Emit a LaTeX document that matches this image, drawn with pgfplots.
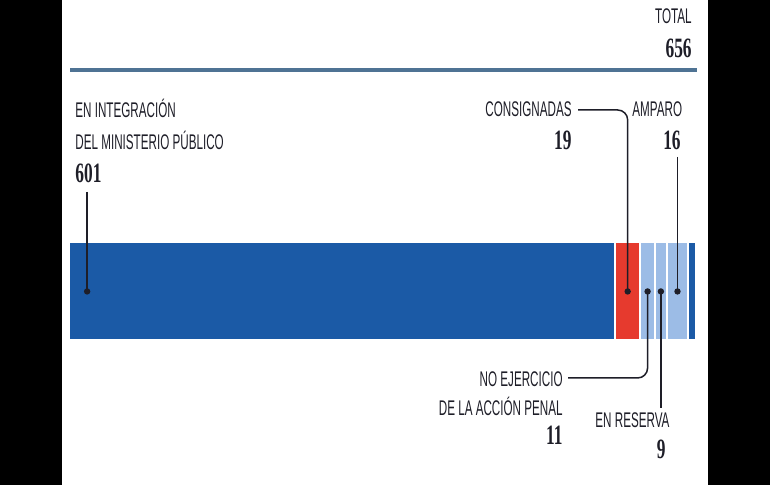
\documentclass[border=0pt]{standalone}
\usepackage{pgfplots}
\pgfplotsset{compat=1.18}
\usepackage{fontspec}
\setmainfont{Liberation Sans}
\newfontfamily\lab[FakeStretch=0.55]{Liberation Sans}
\newfontfamily\num[FakeStretch=0.62]{Liberation Serif}
\definecolor{dblue}{HTML}{1B5AA6}
\definecolor{sred}{HTML}{E63A2E}
\definecolor{lblue}{HTML}{9CBCE6}
\definecolor{rule}{HTML}{4F7394}
\definecolor{ink}{HTML}{1E1E28}
\newcommand\lbl{\lab\fontsize{10.6}{12}\selectfont\color{ink}}
\newcommand\nmb{\num\bfseries\fontsize{14}{16}\selectfont\color{ink}}
\begin{document}
\begin{tikzpicture}[x=0.5pt,y=0.5pt]
% frame: black side bands as in the reference
\fill[black] (0,0) rectangle (770,485);
\fill[white] (62,0) rectangle (708,485);
\draw[rule, line width=2pt] (70,415) -- (697,415);
\node[anchor=base east, inner sep=0] at (692,461) {\lbl TOTAL};
\node[anchor=base east, inner sep=0] at (692,427) {\nmb 656};

\begin{axis}[
  at={(52,147.5)}, anchor=south west, scale only axis,
  width=313.5pt, height=49pt,
  xbar stacked, bar width=49pt,
  xmin=190, xmax=662, ymin=-0.5, ymax=0.5,
  hide axis,
]
\addplot[fill=dblue, draw=white, line width=1pt] coordinates {(601,0)};
\addplot[fill=sred, draw=white, line width=1pt] coordinates {(19,0)};
\addplot[fill=lblue, draw=white, line width=1pt] coordinates {(11,0)};
\addplot[fill=lblue, draw=white, line width=1pt] coordinates {(9,0)};
\addplot[fill=lblue, draw=white, line width=1pt] coordinates {(16,0)};
\addplot[fill=dblue, draw=white, line width=1pt] coordinates {(6,0)};
\coordinate (dB) at (axis cs:203.6,0);
\coordinate (dR) at (axis cs:610.5,0);
\coordinate (dN) at (axis cs:625.5,0);
\coordinate (dE) at (axis cs:635.5,0);
\coordinate (dA) at (axis cs:648,0);
\end{axis}

% labels
\node[anchor=base west, inner sep=0] at (75,367) {\lbl EN INTEGRACIÓN};
\node[anchor=base west, inner sep=0] at (75,335) {\lbl DEL MINISTERIO PÚBLICO};
\node[anchor=base west, inner sep=0] at (75,302) {\nmb 601};
\node[anchor=base east, inner sep=0] at (572,368) {\lbl CONSIGNADAS};
\node[anchor=base east, inner sep=0] at (572,335) {\nmb 19};
\node[anchor=base west, inner sep=0] at (632,368) {\lbl AMPARO};
\node[anchor=base east, inner sep=0] at (681,335) {\nmb 16};
\node[anchor=base east, inner sep=0] at (563,98) {\lbl NO EJERCICIO};
\node[anchor=base east, inner sep=0] at (563,69) {\lbl DE LA ACCIÓN PENAL};
\node[anchor=base east, inner sep=0] at (563,40) {\nmb 11};
\node[anchor=base west, inner sep=0] at (595,57) {\lbl EN RESERVA};
\node[anchor=base east, inner sep=0] at (666,26) {\nmb 9};

% leaders
\begin{scope}[ink, line width=0.75pt]
\draw (dB |- 0,293) -- (dB);
\draw[rounded corners=5pt] (578,375) -| (dR);
\draw (dA |- 0,328) -- (dA);
\draw[rounded corners=5pt] (568,107) -| (dN);
\draw (dE |- 0,77) -- (dE);
\foreach \c in {dB,dR,dN,dE,dA} \fill (\c) circle (1.6pt);
\end{scope}
\end{tikzpicture}
\end{document}
